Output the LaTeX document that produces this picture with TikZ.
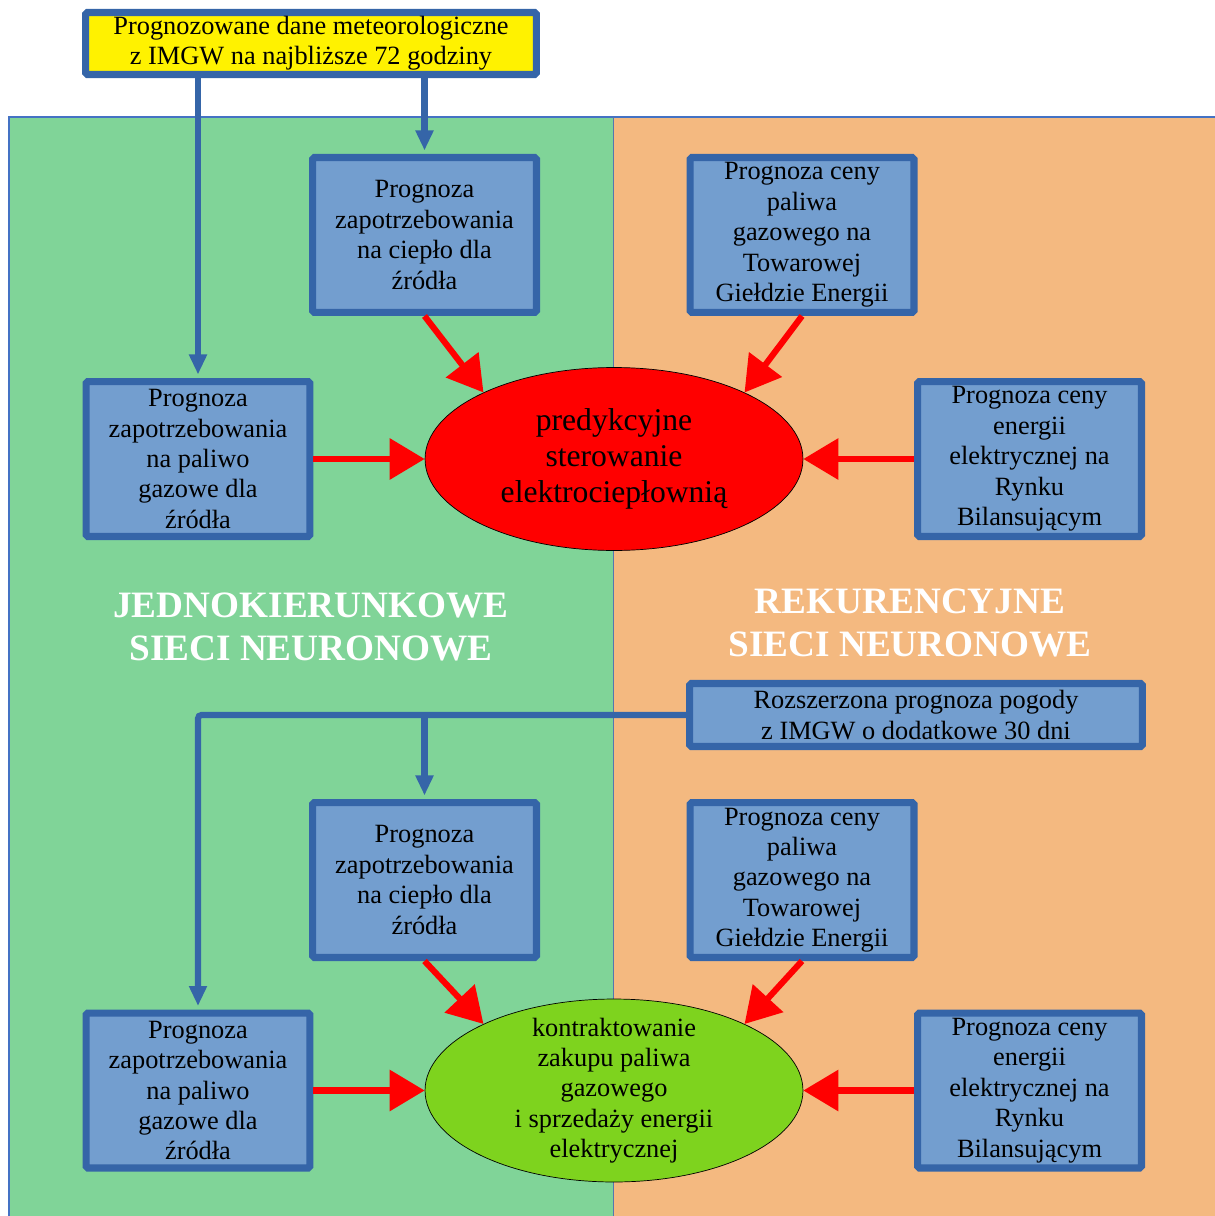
\documentclass[tikz,border=0pt]{standalone}
\usepackage{fontspec}
\setmainfont{Liberation Serif}
\usepackage{tikz}
\usetikzlibrary{shapes,arrows.meta,positioning,calc}

\definecolor{zielen}{RGB}{128,212,152}
\definecolor{pomarancz}{RGB}{244,185,128}
\definecolor{ramka}{RGB}{53,101,168}
\definecolor{wypelnienie}{RGB}{115,158,207}
\definecolor{limonka}{RGB}{126,211,30}
\definecolor{panel}{RGB}{68,114,196}

\tikzset{
    prognoza/.style={draw=ramka, line width=4pt, fill=wypelnienie, rectangle, rounded corners=1pt, minimum width=4.48cm, minimum height=3.1cm, inner sep=0pt, align=center, font=\fontsize{15}{17.3}\selectfont},
    cel/.style={ellipse, draw=black, thin, minimum width=7.56cm, minimum height=3.66cm, inner sep=0pt, align=center},
    czerwona/.style={red, line width=3.5pt, -{Triangle[length=0.7cm,width=0.8cm]}},
    niebieska/.style={ramka, line width=3.5pt, -{Triangle[length=0.4cm,width=0.34cm]}, shorten >=2pt},
    tytul/.style={white, align=center, font=\fontsize{21.2}{24}\selectfont\bfseries}
}

\begin{document}
\begin{tikzpicture}[x=0.02cm, y=-0.02cm]
    \useasboundingbox (0,0) rectangle (1214,1216);
    \fill[zielen] (9,117) rectangle (613,1230);
    \fill[pomarancz] (613,117) rectangle (1230,1230);
    \draw[panel, line width=0.8pt] (9,1230) -- (9,117) -- (1230,117);
    \draw[panel!70!gray, line width=0.5pt] (613,117) -- (613,1230);

    \node[draw=ramka, line width=4pt, fill=yellow, rounded corners=1pt, minimum width=9.02cm, minimum height=1.24cm, inner sep=0pt, align=center, font=\fontsize{15}{17.3}\selectfont] (meteo) at (311,43.5) {Prognozowane dane meteorologiczne\\z IMGW na najbliższe 72 godziny};

    \node[prognoza] (cieploA) at (424.5,235) {Prognoza\\zapotrzebowania\\na ciepło dla\\źródła};
    \node[prognoza] (gazA) at (802,235) {Prognoza ceny\\paliwa\\gazowego na\\Towarowej\\Giełdzie Energii};
    \node[prognoza] (paliwoA) at (198,459) {Prognoza\\zapotrzebowania\\na paliwo\\gazowe dla\\źródła};
    \node[prognoza] (energiaA) at (1029.5,459) {Prognoza ceny\\energii\\elektrycznej na\\Rynku\\Bilansującym};
    \node[cel, fill=red, font=\fontsize{18}{20.4}\selectfont] (sterowanie) at (614,459) {predykcyjne\\sterowanie\\elektrociepłownią};

    \node[tytul] (jednokier) at (311,627) {JEDNOKIERUNKOWE\\SIECI NEURONOWE};
    \node[tytul] (rekur) at (910,623) {REKURENCYJNE\\SIECI NEURONOWE};

    \node[draw=ramka, line width=4pt, fill=wypelnienie, rounded corners=1pt, minimum width=9.06cm, minimum height=1.26cm, inner sep=0pt, align=center, font=\fontsize{15}{17.3}\selectfont] (pogoda) at (916,715) {Rozszerzona prognoza pogody\\z IMGW o dodatkowe 30 dni};

    \node[prognoza] (cieploB) at (424.5,880) {Prognoza\\zapotrzebowania\\na ciepło dla\\źródła};
    \node[prognoza] (gazB) at (802,880) {Prognoza ceny\\paliwa\\gazowego na\\Towarowej\\Giełdzie Energii};
    \node[prognoza] (paliwoB) at (198,1090.5) {Prognoza\\zapotrzebowania\\na paliwo\\gazowe dla\\źródła};
    \node[prognoza] (energiaB) at (1029.5,1090.5) {Prognoza ceny\\energii\\elektrycznej na\\Rynku\\Bilansującym};
    \node[cel, fill=limonka, label={[align=center, font=\fontsize{15}{17.3}\selectfont]center:kontraktowanie\\zakupu paliwa\\gazowego\\i sprzedaży energii\\elektrycznej}] (kontrakt) at (614,1090.5) {};

    \draw[niebieska] (meteo.south -| paliwoA.north) -- (paliwoA.north);
    \draw[niebieska] (meteo.south -| cieploA.north) -- (cieploA.north);
    \draw[czerwona] (cieploA.south) -- (sterowanie.153);
    \draw[czerwona] (gazA.south) -- (sterowanie.27);
    \draw[czerwona] (paliwoA.east) -- (sterowanie.west);
    \draw[czerwona] (energiaA.west) -- (sterowanie.east);

    \draw[niebieska, rounded corners=2pt] (pogoda.west) -| (paliwoB.north);
    \draw[niebieska] (pogoda.west -| cieploB.north) -- (cieploB.north);
    \draw[czerwona] (cieploB.south) -- (kontrakt.153);
    \draw[czerwona] (gazB.south) -- (kontrakt.27);
    \draw[czerwona] (paliwoB.east) -- (kontrakt.west);
    \draw[czerwona] (energiaB.west) -- (kontrakt.east);
\end{tikzpicture}
\end{document}
